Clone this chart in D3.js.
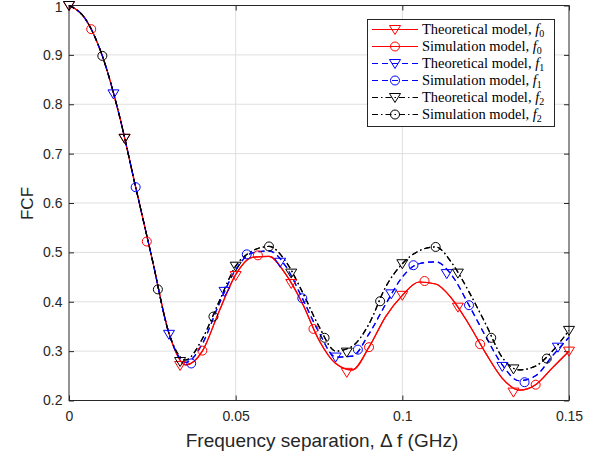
<!DOCTYPE html>
<html>
<head>
<meta charset="utf-8">
<script src="https://cdn.jsdelivr.net/npm/d3@7"></script>
<style>
  body { margin: 0; background: #fff; }
  text { font-family: "Liberation Sans", Arial, sans-serif; }
</style>
</head>
<body>
<div id="chart"></div>
<script>
// x grid for the lines (GHz)
var lineX = d3.range(0, 31).map(function (i) { return i * 0.005; });

// line values per frequency
var lineF0 = [1.000, 0.972, 0.898, 0.780, 0.632, 0.485, 0.336, 0.272, 0.300, 0.380, 0.455,
  0.490, 0.492, 0.456, 0.397, 0.322, 0.275, 0.262, 0.308, 0.370, 0.413,
  0.440, 0.436, 0.405, 0.354, 0.296, 0.245, 0.221, 0.232, 0.266, 0.300];
var lineF1 = [1.000, 0.972, 0.898, 0.780, 0.632, 0.485, 0.336, 0.277, 0.315, 0.395, 0.465,
  0.499, 0.503, 0.472, 0.407, 0.338, 0.288, 0.290, 0.335, 0.395, 0.450,
  0.477, 0.481, 0.452, 0.393, 0.330, 0.272, 0.240, 0.250, 0.290, 0.328];
var lineF2 = [1.000, 0.972, 0.898, 0.780, 0.632, 0.485, 0.336, 0.282, 0.325, 0.400, 0.472,
  0.503, 0.512, 0.482, 0.420, 0.350, 0.300, 0.310, 0.355, 0.430, 0.477,
  0.503, 0.511, 0.477, 0.420, 0.355, 0.287, 0.262, 0.270, 0.300, 0.342];

// marker values, every 1/60 GHz with a per-series offset
var triF0X = [0, 1, 2, 3, 4, 5, 6, 7, 8, 9].map(function (k) { return k / 60; });
var triF0Y = [1.000, 0.731, 0.271, 0.453, 0.437, 0.257, 0.413, 0.389, 0.217, 0.300];
var cirF0X = [0, 1, 2, 3, 4, 5, 6, 7, 8].map(function (k) { return 0.00667 + k / 60; });
var cirF0Y = [0.952, 0.522, 0.301, 0.494, 0.345, 0.308, 0.442, 0.314, 0.232];
var triF1X = [0, 1, 2, 3, 4, 5, 6, 7, 8].map(function (k) { return 0.01333 + k / 60; });
var triF1Y = [0.821, 0.334, 0.421, 0.480, 0.288, 0.416, 0.457, 0.269, 0.308];
var cirF1X = [1, 2, 3, 4, 5, 6, 7, 8].map(function (k) { return 0.00333 + k / 60; });
var cirF1Y = [0.632, 0.275, 0.496, 0.407, 0.303, 0.474, 0.393, 0.237];
var triF2X = [0, 1, 2, 3, 4, 5, 6, 7, 8, 9].map(function (k) { return k / 60; });
var triF2Y = [1.000, 0.731, 0.279, 0.472, 0.458, 0.298, 0.477, 0.458, 0.264, 0.342];
var cirF2X = [0, 1, 2, 3, 4, 5, 6, 7, 8].map(function (k) { return 0.01 + k / 60; });
var cirF2Y = [0.898, 0.425, 0.370, 0.512, 0.327, 0.401, 0.511, 0.327, 0.285];

var xTicks = [0, 0.05, 0.1, 0.15];
var yTicks = [0.2, 0.3, 0.4, 0.5, 0.6, 0.7, 0.8, 0.9, 1];

// series definitions
var series = [
  { name: "Theoretical model,\u00a0", sub: "0", color: "#ff0000", dash: null, marker: "tri", lx: lineX, ly: lineF0, mx: triF0X, my: triF0Y },
  { name: "Simulation model,\u00a0", sub: "0", color: "#ff0000", dash: null, marker: "cir", lx: lineX, ly: lineF0, mx: cirF0X, my: cirF0Y },
  { name: "Theoretical model,\u00a0", sub: "1", color: "#0000ff", dash: "6,4", marker: "tri", lx: lineX, ly: lineF1, mx: triF1X, my: triF1Y },
  { name: "Simulation model,\u00a0", sub: "1", color: "#0000ff", dash: "6,4", marker: "cir", lx: lineX, ly: lineF1, mx: cirF1X, my: cirF1Y },
  { name: "Theoretical model,\u00a0", sub: "2", color: "#000000", dash: "6,3,1.5,3", marker: "tri", lx: lineX, ly: lineF2, mx: triF2X, my: triF2Y },
  { name: "Simulation model,\u00a0", sub: "2", color: "#000000", dash: "6,3,1.5,3", marker: "cir", lx: lineX, ly: lineF2, mx: cirF2X, my: cirF2Y }
];

var width = 597, height = 459;
var plot = { left: 69, right: 569, top: 5.5, bottom: 400.5 };

var svg = d3.select("#chart").append("svg")
  .attr("width", width)
  .attr("height", height);

var x = d3.scaleLinear().domain([0, 0.15]).range([plot.left, plot.right]);
var y = d3.scaleLinear().domain([0.2, 1]).range([plot.bottom, plot.top]);

// grid
svg.append("g").selectAll("line")
  .data(xTicks.slice(1, -1))
  .enter().append("line")
  .attr("x1", function (d) { return x(d); }).attr("x2", function (d) { return x(d); })
  .attr("y1", plot.top).attr("y2", plot.bottom)
  .attr("stroke", "#dfdfdf").attr("stroke-width", 1);
svg.append("g").selectAll("line")
  .data(yTicks.slice(1, -1))
  .enter().append("line")
  .attr("y1", function (d) { return y(d); }).attr("y2", function (d) { return y(d); })
  .attr("x1", plot.left).attr("x2", plot.right)
  .attr("stroke", "#dfdfdf").attr("stroke-width", 1);

// axes (ticks inward on all four sides)
var axisColor = "#262626";
function styleAxis(g) {
  g.select(".domain").remove();
  g.selectAll("line").attr("stroke", axisColor);
  g.selectAll("text").attr("fill", axisColor).style("font-size", "14px")
    .style("font-family", "'Liberation Sans', Arial, sans-serif");
}
svg.append("g")
  .attr("transform", "translate(0," + plot.bottom + ")")
  .call(d3.axisBottom(x).tickValues(xTicks).tickSize(-5).tickPadding(11).tickFormat(d3.format("")))
  .call(styleAxis);
svg.append("g")
  .attr("transform", "translate(0," + plot.top + ")")
  .call(d3.axisTop(x).tickValues(xTicks).tickSize(-5).tickFormat(""))
  .call(styleAxis);
var yAxisG = svg.append("g")
  .attr("transform", "translate(" + plot.left + ",0)")
  .call(d3.axisLeft(y).tickValues(yTicks).tickSize(-5).tickPadding(6.5).tickFormat(d3.format("")))
  .call(styleAxis);
// keep the top label inside the page
yAxisG.selectAll("text").filter(function (d) { return d === 1; }).attr("dy", "0.4em");
svg.append("g")
  .attr("transform", "translate(" + plot.right + ",0)")
  .call(d3.axisRight(y).tickValues(yTicks).tickSize(-5).tickFormat(""))
  .call(styleAxis);

// box
svg.append("rect")
  .attr("x", plot.left).attr("y", plot.top)
  .attr("width", plot.right - plot.left).attr("height", plot.bottom - plot.top)
  .attr("fill", "none").attr("stroke", axisColor).attr("stroke-width", 1);

// curves
var line = d3.line()
  .x(function (d) { return x(d[0]); })
  .y(function (d) { return y(d[1]); })
  .curve(d3.curveMonotoneX);

function drawMarker(g, type, cx, cy, color) {
  if (type === "tri") {
    g.append("path")
      .attr("d", "M" + (cx - 5.5) + "," + (cy - 4) + "L" + (cx + 5.5) + "," + (cy - 4) + "L" + cx + "," + (cy + 5) + "Z")
      .attr("fill", "none").attr("stroke", color).attr("stroke-width", 1);
  } else {
    g.append("circle")
      .attr("cx", cx).attr("cy", cy).attr("r", 4.5)
      .attr("fill", "none").attr("stroke", color).attr("stroke-width", 1);
  }
}

series.forEach(function (s) {
  var pts = s.lx.map(function (v, i) { return [v, s.ly[i]]; });
  svg.append("path")
    .datum(pts)
    .attr("d", line)
    .attr("fill", "none")
    .attr("stroke", s.color)
    .attr("stroke-width", 1.2)
    .attr("stroke-dasharray", s.dash);
});
series.forEach(function (s) {
  var g = svg.append("g");
  s.mx.forEach(function (v, i) {
    drawMarker(g, s.marker, x(v), y(s.my[i]), s.color);
  });
});

// legend
var legend = svg.append("g");
legend.append("rect")
  .attr("x", 367.5).attr("y", 19.5)
  .attr("width", 187).attr("height", 107)
  .attr("fill", "#fff").attr("stroke", axisColor).attr("stroke-width", 1);

series.forEach(function (s, i) {
  var ly = 29.5 + i * 17;
  legend.append("line")
    .attr("x1", 372).attr("x2", 418)
    .attr("y1", ly).attr("y2", ly)
    .attr("stroke", s.color).attr("stroke-width", 1.2)
    .attr("stroke-dasharray", s.dash);
  drawMarker(legend, s.marker, 395, ly, s.color);
  var t = legend.append("text")
    .attr("x", 422).attr("y", ly + 4.5)
    .style("font-family", "'Liberation Serif', 'Times New Roman', serif")
    .style("font-size", "14.5px")
    .attr("fill", "#000");
  t.append("tspan").text(s.name);
  t.append("tspan").style("font-style", "italic").text("f");
  t.append("tspan").attr("dy", 3).style("font-size", "10px").text(s.sub);
});

// axis labels
svg.append("text")
  .attr("x", (plot.left + plot.right) / 2 + 3)
  .attr("y", 447)
  .attr("text-anchor", "middle")
  .attr("fill", axisColor)
  .style("font-size", "19px")
  .text("Frequency separation, \u0394 f (GHz)");

svg.append("text")
  .attr("transform", "translate(32.5,203.5) rotate(-90)")
  .attr("text-anchor", "middle")
  .attr("fill", axisColor)
  .style("font-size", "17px")
  .text("FCF");
</script>
</body>
</html>
